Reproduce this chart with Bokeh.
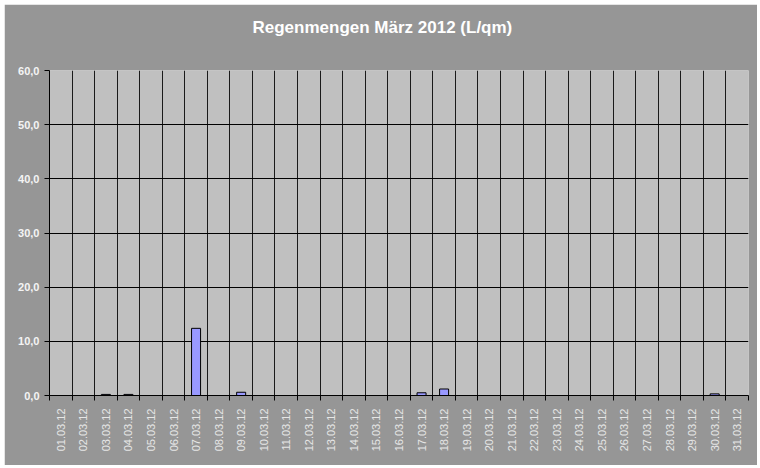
from bokeh.plotting import figure
from bokeh.models import FixedTicker, Range1d, ColumnDataSource, Title
from bokeh.embed import file_html
from bokeh.resources import INLINE
import math

title_text = "Regenmengen März 2012 (L/qm)"
dates = ["%02d.03.12" % d for d in range(1, 32)]
rain = [0.0, 0.0, 0.2, 0.2, 0.0, 0.0, 12.4, 0.0, 0.6, 0.0,
        0.0, 0.0, 0.0, 0.0, 0.0, 0.0, 0.5, 1.2, 0.0, 0.0,
        0.0, 0.0, 0.0, 0.0, 0.0, 0.0, 0.0, 0.0, 0.0, 0.3, 0.0]
y_ticks = [0, 10, 20, 30, 40, 50, 60]
y_tick_labels = ["0,0", "10,0", "20,0", "30,0", "40,0", "50,0", "60,0"]

n = len(dates)
xs = [i + 0.5 for i in range(n)]
src = ColumnDataSource(dict(x=xs, top=rain, date=dates))

BG = "#969696"
p = figure(width=753, height=461, output_backend="svg", toolbar_location=None,
           x_range=Range1d(0, n), y_range=Range1d(0, 60),
           min_border_left=45, min_border_right=9, min_border_top=0, min_border_bottom=70)
p.margin = (4, 0, 0, 4)
p.background_fill_color = "#C0C0C0"
p.border_fill_color = BG
p.outline_line_color = None

# spacer between title and plot area, then the title itself
spacer = Title(text=" ", text_font_size="10px", standoff=9, text_color=BG)
p.add_layout(spacer, "above")
main_title = Title(text=title_text, align="left", offset=203, standoff=23,
                   text_color="white", text_font="Liberation Sans",
                   text_font_style="bold", text_font_size="17px")
p.add_layout(main_title, "above")

p.vbar(x="x", top="top", width=0.4, bottom=0, source=src,
       fill_color="#9999FF", line_color="black", line_width=1)

# x axis
p.xaxis.ticker = FixedTicker(ticks=xs, minor_ticks=list(range(0, n + 1)))
p.xaxis.major_label_overrides = {x: d for x, d in zip(xs, dates)}
p.xaxis.major_label_orientation = math.pi / 2
p.xaxis.major_tick_line_color = None
p.xaxis.minor_tick_line_color = "black"
p.xaxis.minor_tick_in = 0
p.xaxis.minor_tick_out = 5
p.xaxis.axis_line_color = "black"
p.xaxis.major_label_text_color = "#E6E6E6"
p.xaxis.major_label_text_font = "Liberation Sans"
p.xaxis.major_label_text_font_size = "11px"
p.xaxis.major_label_standoff = 7

# y axis
p.yaxis.ticker = FixedTicker(ticks=y_ticks, minor_ticks=[])
p.yaxis.major_label_overrides = {t: l for t, l in zip(y_ticks, y_tick_labels)}
p.yaxis.major_tick_in = 0
p.yaxis.major_tick_out = 5
p.yaxis.major_tick_line_color = "black"
p.yaxis.axis_line_color = "black"
p.yaxis.major_label_text_color = "#F4F4F4"
p.yaxis.major_label_text_font = "Liberation Sans"
p.yaxis.major_label_text_font_style = "bold"
p.yaxis.major_label_text_font_size = "11px"
p.yaxis.major_label_standoff = 5

# grids
p.xgrid.ticker = FixedTicker(ticks=list(range(1, n)))
p.xgrid.grid_line_color = "#1A1A1A"
p.xgrid.grid_line_width = 1
p.ygrid.ticker = FixedTicker(ticks=y_ticks)
p.ygrid.grid_line_color = "black"
p.ygrid.grid_line_width = 1

open("out.html", "w").write(file_html(p, INLINE))
